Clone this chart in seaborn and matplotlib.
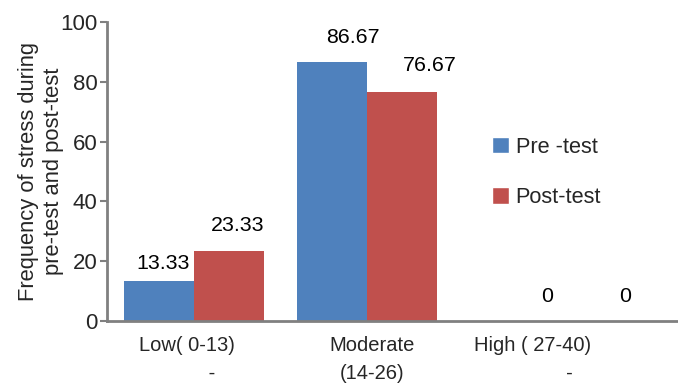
import matplotlib
matplotlib.use("Agg")
import matplotlib.pyplot as plt
import matplotlib.transforms as mtransforms
import seaborn as sns
import pandas as pd
from matplotlib.patches import Patch

categories = ["Low( 0-13)\n         -", "Moderate\n(14-26)", "High ( 27-40)\n             -"]
series = ["Pre -test", "Post-test"]
pre_values = [13.33, 86.67, 0]
post_values = [23.33, 76.67, 0]
y_ticks = [0, 20, 40, 60, 80, 100]

colors = ["#4F81BD", "#C0504D"]

df = pd.DataFrame({
    "category": categories * 2,
    "series": [series[0]] * 3 + [series[1]] * 3,
    "value": pre_values + post_values,
})

sns.set_theme(style="white")
plt.rcParams["font.family"] = ["Liberation Sans", "DejaVu Sans"]

fig = plt.figure(figsize=(6.78, 3.85), dpi=100)
ax = fig.add_axes([0.158, 0.166, 0.842, 0.777])

sns.barplot(data=df, x="category", y="value", hue="series", order=categories,
            hue_order=series, palette=colors, width=0.81, saturation=1,
            ax=ax, legend=False)

for p in ax.patches:
    p.set_edgecolor("none")

# value label placement (pixel offsets from bar top centre)
label_dx = [[4, 21, 42], [9, 28, 50]]
label_dy = [[12, 19, 19], [20, 21, 19]]
for si, cont in enumerate(ax.containers):
    vals = pre_values if si == 0 else post_values
    for ci, (bar, v) in enumerate(zip(cont, vals)):
        ax.annotate(f"{v:g}", (bar.get_x() + bar.get_width() / 2, v),
                    xytext=(label_dx[si][ci] * 0.72, label_dy[si][ci] * 0.72),
                    textcoords="offset points",
                    ha="center", va="baseline", fontsize=15.4, color="black")

ax.set_ylim(0, 100)
ax.set_xlim(-0.503, 2.8)
ax.set_yticks(y_ticks)
ax.set_xlabel("")
ax.set_ylabel("Frequency of stress during\npre-test and post-test", fontsize=15.8,
              labelpad=-3, linespacing=1.25)
ax.tick_params(axis="y", left=True, length=5, width=1.5, color="#808080",
               labelsize=16, pad=2)
ax.tick_params(axis="x", bottom=False, labelsize=14.5, pad=5)
x_shift_px = [-7, 5, -7]
for lbl, sh in zip(ax.get_xticklabels(), x_shift_px):
    lbl.set_multialignment("center")
    lbl.set_linespacing(1.55)
    lbl.set_transform(lbl.get_transform() +
                      mtransforms.ScaledTranslation(sh / 100, 0, fig.dpi_scale_trans))

for side in ["top", "right"]:
    ax.spines[side].set_visible(False)
for side in ["left", "bottom"]:
    ax.spines[side].set_color("#808080")
    ax.spines[side].set_linewidth(2)

handles = [Patch(facecolor=colors[0], label=series[0]),
           Patch(facecolor=colors[1], label=series[1])]
fig.legend(handles=handles, loc="upper left", bbox_to_anchor=(0.7257, 0.645),
           frameon=False, fontsize=15.7, handlelength=0.78, handleheight=0.78,
           handletextpad=0.3, labelspacing=1.35, borderpad=0, borderaxespad=0)

fig.savefig("out.png", dpi=100)
